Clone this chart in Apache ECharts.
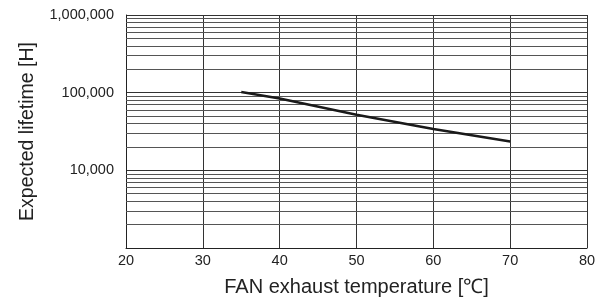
<!DOCTYPE html>
<html>
<head>
<meta charset="utf-8">
<script src="https://cdn.jsdelivr.net/npm/echarts@6/dist/echarts.min.js"></script>
<style>
html,body{margin:0;padding:0;background:#fff;}
#chart{width:603px;height:304px;}
</style>
</head>
<body>
<div id="chart"></div>
<script>
var temperatures = [35, 40, 50, 60, 70];
var lifetimes = [102000, 84000, 52000, 34000, 23500];
var minorGridValues = [
  2000, 3000, 4000, 5000, 6000, 7000, 8000, 9000,
  20000, 30000, 40000, 50000, 60000, 70000, 80000, 90000,
  200000, 300000, 400000, 500000, 600000, 700000, 800000, 900000
];
var xTitle = 'FAN exhaust temperature [℃]';
var yTitle = 'Expected lifetime [H]';

var chart = echarts.init(document.getElementById('chart'), null, {renderer: 'canvas'});
var font = 'Liberation Sans, Arial, Helvetica, sans-serif';
var option = {
  animation: false,
  grid: {left: 126, right: 16, top: 15, bottom: 56},
  xAxis: {
    type: 'value', min: 20, max: 80, interval: 10,
    name: xTitle, nameLocation: 'middle', nameGap: 29,
    nameTextStyle: {fontSize: 20, color: '#222', fontFamily: font},
    axisLine: {show: true, lineStyle: {color: '#222', width: 1}},
    axisTick: {show: false},
    axisLabel: {fontSize: 14.5, color: '#222', fontFamily: font, margin: 5},
    splitLine: {show: true, lineStyle: {color: '#333', width: 1}}
  },
  yAxis: {
    type: 'log', logBase: 10, min: 1000, max: 1000000,
    name: yTitle, nameLocation: 'middle', nameGap: 88,
    nameTextStyle: {fontSize: 19.5, color: '#222', fontFamily: font},
    axisLine: {show: true, lineStyle: {color: '#222', width: 1}},
    axisTick: {show: false},
    axisLabel: {
      fontSize: 14.5, color: '#222', fontFamily: font, margin: 12,
      formatter: function (v) { return v <= 1000 ? '' : v.toLocaleString('en-US'); }
    },
    splitLine: {show: true, lineStyle: {color: '#333', width: 1}}
  },
  series: [{
    type: 'line',
    data: temperatures.map(function (t, i) { return [t, lifetimes[i]]; }),
    showSymbol: false, symbol: 'none',
    lineStyle: {color: '#1a1a1a', width: 2.5},
    z: 5,
    markLine: {
      silent: true, symbol: 'none', animation: false,
      label: {show: false},
      lineStyle: {color: '#555', width: 1, type: 'solid'},
      data: minorGridValues.map(function (v) { return {yAxis: v}; })
    }
  }]
};
chart.setOption(option);
</script>
</body>
</html>
